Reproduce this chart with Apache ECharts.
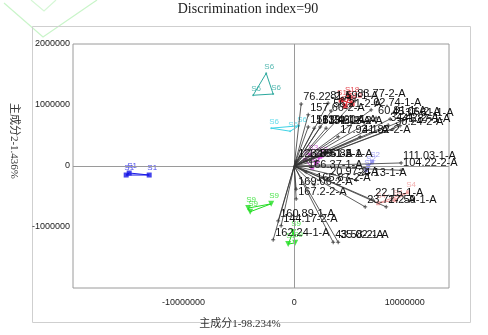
<!DOCTYPE html>
<html>
<head>
<meta charset="utf-8">
<script src="https://cdn.jsdelivr.net/npm/echarts@6/dist/echarts.min.js"></script>
<style>
  html, body { margin: 0; padding: 0; background: #fff; }
  #chart { width: 488px; height: 335px; }
</style>
</head>
<body>
<div id="chart"></div>
<script>
// Sample scores (principal component 1 / principal component 2)
const s1X = [-15190000, -14920000, -13110000];
const s1Y = [-148000, -115000, -148000];
const s6X = [-2530000, -3710000, -1900000];
const s6Y = [1520000, 1160000, 1180000];
const s5X = [-2080000, -360000, 450000];
const s5Y = [620000, 570000, 660000];
const s18X = [4250000, 4610000, 4970000, 5240000];
const s18Y = [1080000, 980000, 1130000, 1020000];
const s3X = [990000, 1450000, 1990000, 2350000, 1630000];
const s3Y = [100000, 180000, 50000, 150000, -30000];
const s2X = [6690000, 7050000, 6510000];
const s2Y = [0, 70000, -70000];
const s4X = [7590000, 9130000, 10300000];
const s4Y = [-610000, -560000, -430000];
const s9X = [-4160000, -3980000, -2080000];
const s9Y = [-690000, -750000, -620000];
const s7X = [-540000, 90000, -90000];
const s7Y = [-1280000, -1260000, -1080000];

// Variable loadings (arrows from the origin)
const loadNames = [
  '76.22-2-A', '81.59-1-A', '83.77-2-A', '157.66-2-A', '56.21-2-A', '62.74-1-A',
  '60.81-1-A', '45.06-2-A', '37.61-1-A', '34.42-2-A', '30.24-2-A', '41.87-1-A',
  '158.24-1-A', '153.43-2-A', '139.60-1-A', '131.18-2-A', '17.93-1-A', '41.82-2-A',
  '123.86-1-A', '125.51-2-A', '156.85-1-A', '166.37-1-A', '20.97-2-A', '24.13-1-A',
  '165.87-2-A', '169.06-2-A', '167.2-2-A', '111.03-1-A', '104.22-2-A', '22.15-1-A',
  '23.71-2-A', '27.59-1-A', '160.89-1-A', '144.17-2-A', '162.24-1-A', '43.58-2-A',
  '35.02-1-A'
];
const loadX = [
  630000, 3070000, 5520000, 1270000, 3350000, 6960000,
  7410000, 8680000, 9860000, 8500000, 8950000, 9580000,
  1270000, 1810000, 2350000, 2890000, 3980000, 5970000,
  180000, 1080000, 1990000, 1080000, 3070000, 5610000,
  1810000, 180000, 180000, 9670000, 9670000, 7140000,
  6420000, 8320000, -1450000, -1180000, -1900000, 3530000,
  3980000
];
const loadY = [
  1016000, 1030000, 1070000, 840000, 900000, 920000,
  790000, 770000, 750000, 670000, 610000, 660000,
  640000, 620000, 640000, 620000, 480000, 480000,
  80000, 80000, 80000, -100000, -210000, -230000,
  -310000, -380000, -540000, 50000, -70000, -560000,
  -670000, -670000, -900000, -980000, -1210000, -1250000,
  -1250000
];

const xTicks = [-10000000, 0, 10000000];
const yTicks = [-1000000, 0, 1000000, 2000000];

function pts(xs, ys) { return xs.map((x, i) => [x, ys[i]]); }
function ring(xs, ys) { const p = pts(xs, ys); p.push(p[0]); return p; }

const groups = [
  { name: 'S1', xs: s1X, ys: s1Y, color: '#1515e6', symbol: 'rect', size: 5 },
  { name: 'S6', xs: s6X, ys: s6Y, color: '#2aa89e', symbol: 'circle', size: 2 },
  { name: 'S6', xs: s5X, ys: s5Y, color: '#3fd3e6', symbol: 'circle', size: 2 },
  { name: 'S18', xs: s18X, ys: s18Y, color: '#e0202a', symbol: 'rect', size: 5 },
  { name: 'S3', xs: s3X, ys: s3Y, color: '#d04ad8', symbol: 'rect', size: 4 },
  { name: 'S2', xs: s2X, ys: s2Y, color: '#8d8df0', symbol: 'rect', size: 4 },
  { name: 'S4', xs: s4X, ys: s4Y, color: '#ef9a9a', symbol: 'rect', size: 4 },
  { name: 'S9', xs: s9X, ys: s9Y, color: '#22dd22', symbol: 'triangle', size: 6 },
  { name: 'S9', xs: s7X, ys: s7Y, color: '#22dd22', symbol: 'triangle', size: 6 }
];

const series = [];
groups.forEach(g => {
  series.push({
    type: 'line', data: ring(g.xs, g.ys), showSymbol: false, silent: true,
    lineStyle: { color: g.color, width: 1 }, z: 3
  });
  series.push({
    type: 'scatter', data: pts(g.xs, g.ys), symbol: g.symbol, symbolRotate: g.symbol === 'triangle' ? 180 : 0,
    symbolSize: g.size, itemStyle: { color: g.color }, z: 4,
    label: { show: true, formatter: g.name, position: 'top', distance: 1, offset: [3, 0],
             color: g.color, fontSize: 8, fontFamily: 'Liberation Sans' }
  });
});

// zero lines across the plot
series.push({
  type: 'line', data: [], silent: true,
  markLine: {
    silent: true, symbol: 'none', animation: false,
    label: { show: false },
    lineStyle: { color: '#9a9a9a', type: 'solid', width: 1 },
    data: [{ xAxis: 0 }, { yAxis: 0 }]
  }
});

// loading arrows
series.push({
  type: 'custom', z: 5,
  data: loadX.map((x, i) => [x, loadY[i], i]),
  renderItem: function (params, api) {
    const o = api.coord([0, 0]);
    const p = api.coord([api.value(0), api.value(1)]);
    const name = loadNames[api.value(2)];
    return {
      type: 'group',
      children: [
        { type: 'line', shape: { x1: o[0], y1: o[1], x2: p[0], y2: p[1] },
          style: { stroke: '#333', lineWidth: 0.8 } },
        { type: 'line', shape: { x1: p[0] - 2, y1: p[1], x2: p[0] + 2, y2: p[1] },
          style: { stroke: '#333', lineWidth: 0.8 } },
        { type: 'line', shape: { x1: p[0], y1: p[1] - 2, x2: p[0], y2: p[1] + 2 },
          style: { stroke: '#333', lineWidth: 0.8 } },
        { type: 'text', style: { text: name, x: p[0] + 2, y: p[1] - 7, verticalAlign: 'middle',
          align: 'left', fill: '#111', font: '11px "Liberation Sans", Arial, sans-serif' } }
      ]
    };
  }
});

const chart = echarts.init(document.getElementById('chart'), null, { renderer: 'canvas' });
chart.setOption({
  animation: false,
  backgroundColor: '#ffffff',
  grid: { left: 73, top: 44, right: 39, bottom: 47, show: true, borderColor: '#9a9a9a', borderWidth: 1, backgroundColor: 'transparent' },
  xAxis: {
    type: 'value', min: -20000000, max: 14000000, interval: 10000000,
    axisLine: { show: false }, axisTick: { show: false }, splitLine: { show: false },
    axisLabel: {
      margin: 10, color: '#222', fontSize: 9, fontFamily: 'Liberation Sans',
      formatter: v => xTicks.indexOf(v) >= 0 ? String(v) : ''
    }
  },
  yAxis: {
    type: 'value', min: -2000000, max: 2000000, interval: 1000000,
    axisLine: { show: false }, axisTick: { show: false }, splitLine: { show: false },
    axisLabel: {
      margin: 3, color: '#222', fontSize: 9, fontFamily: 'Liberation Sans',
      formatter: v => yTicks.indexOf(v) >= 0 ? String(v) : ''
    }
  },
  graphic: [
    // faint green guide strokes in the top-left corner
    { type: 'polyline', shape: { points: [[4, 3], [43, 37], [97, 0]] },
      style: { fill: 'none', stroke: '#c9f5c9', lineWidth: 1.2 }, silent: true, z: -2 },
    { type: 'polyline', shape: { points: [[31, 0], [44, 11], [56, 0]] },
      style: { fill: 'none', stroke: '#d6f7d6', lineWidth: 1.2 }, silent: true, z: -2 },
    { type: 'rect', shape: { x: 32.5, y: 26.5, width: 438, height: 296 },
      style: { fill: 'none', stroke: '#cfcfcf', lineWidth: 1 }, silent: true, z: -1 },
    { type: 'text', x: 248, y: 9, style: { text: 'Discrimination index=90', align: 'center', verticalAlign: 'middle',
      font: '14px "Liberation Serif", "Times New Roman", serif', fill: '#222' } },
    { type: 'text', x: 240, y: 324, style: { text: '主成分1-98.234%', align: 'center', verticalAlign: 'middle',
      font: '11px "Liberation Serif", "Noto Sans CJK SC", serif', fill: '#333' } },
    { type: 'text', x: 14, y: 141, rotation: -Math.PI / 2, style: { text: '主成分2-1.436%', align: 'center', verticalAlign: 'middle',
      font: '11px "Liberation Serif", "Noto Sans CJK SC", serif', fill: '#333' } }
  ],
  series: series
});
</script>
</body>
</html>
